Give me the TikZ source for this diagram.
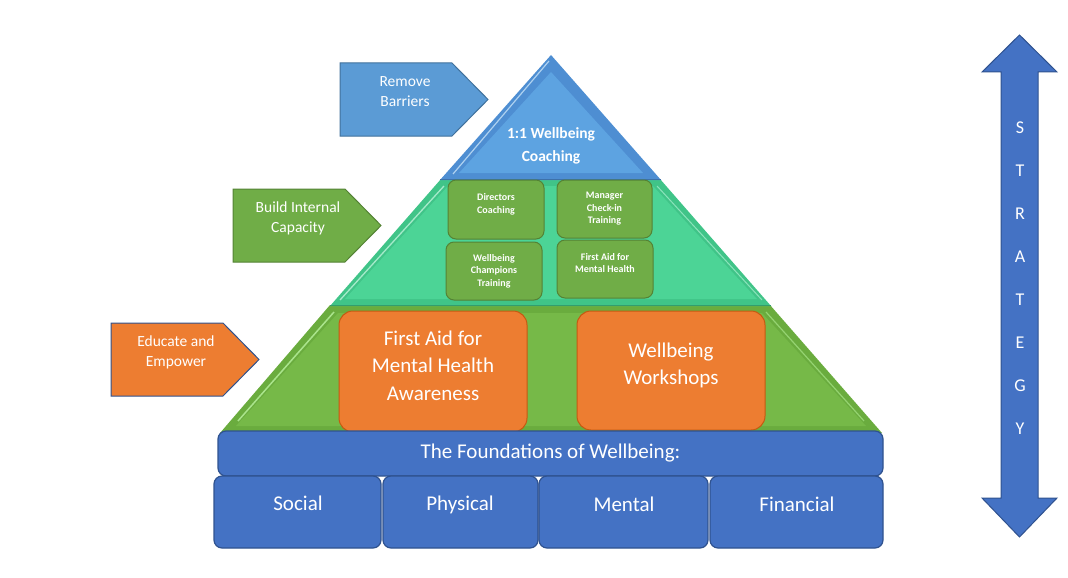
\documentclass[tikz,border=0pt]{standalone}
\usepackage{fontspec}
\setmainfont{Carlito}
\definecolor{topblue}{RGB}{93,163,225}
\definecolor{topblueedge}{RGB}{78,142,210}
\definecolor{mint}{RGB}{76,212,150}
\definecolor{mintedge}{RGB}{64,196,136}
\definecolor{pgreen}{RGB}{118,185,72}
\definecolor{pgreenedge}{RGB}{106,172,62}
\definecolor{hilite}{RGB}{170,228,140}
\definecolor{boxgreen}{RGB}{112,173,71}
\definecolor{boxgreenline}{RGB}{84,130,53}
\definecolor{myorange}{RGB}{237,125,49}
\definecolor{orangeline}{RGB}{197,90,17}
\definecolor{myblue}{RGB}{68,114,196}
\definecolor{bluelineD}{RGB}{47,82,143}
\definecolor{arrowblue}{RGB}{91,155,213}
\definecolor{arrowblueline}{RGB}{65,113,156}
\tikzset{
  txt/.style={text=white, align=center, inner sep=0pt},
  fbox/.style={draw=bluelineD, line width=1.2pt, fill=myblue, rounded corners=8pt},
  obox/.style={draw=orangeline, line width=1pt, fill=myorange, rounded corners=14pt},
  gbox/.style={draw=boxgreenline, line width=1pt, fill=boxgreen, rounded corners=8pt},
}
\begin{document}
\begin{tikzpicture}[x=1pt,y=-1pt]
\useasboundingbox (0,0) rectangle (1068,578);
% ---- pyramid bottom layer
\fill[pgreenedge] (330,305) -- (770,305) -- (882,433) -- (220,433) -- cycle;
\fill[pgreen] (338,313) -- (762,313) -- (866,426) -- (236,426) -- cycle;
\draw[hilite, line width=1.5pt] (334,312) -- (238,421);
\draw[hilite!60!pgreen, line width=1.2pt] (766,312) -- (864,421);
% ---- pyramid middle layer
\fill[mintedge] (441,179) -- (660,179) -- (771,306) -- (330,306) -- cycle;
\fill[mint] (448,186) -- (653,186) -- (757,299) -- (345,299) -- cycle;
\draw[white!50!mint, line width=1.3pt] (444,186) -- (340,300);
\draw[white!35!mint, line width=1pt] (657,186) -- (762,300);
\draw[mintedge!80!black, line width=0.8pt] (330,305.5) -- (771,305.5);
% ---- pyramid top
\fill[topblueedge] (551,55) -- (661,180) -- (440,180) -- cycle;
\fill[topblue] (551,72) -- (643,173) -- (459,173) -- cycle;
\draw[white!50!topblue, line width=1.2pt] (549,61) -- (453,174);
\draw[topblueedge!80!black, line width=0.8pt] (440,179.5) -- (661,179.5);
\node[txt, font=\bfseries\fontsize{15.5}{23}\selectfont] (coach) at (551,146) {1:1 Wellbeing\\Coaching};
% ---- middle boxes
\node[gbox, minimum width=96pt, minimum height=59pt] (dir) at (496,209.5) {};
\node[txt, font=\bfseries\fontsize{10}{12.5}\selectfont] at (dir.center) [yshift=5pt] {Directors\\Coaching};
\node[gbox, minimum width=95pt, minimum height=58pt] (mgr) at (604.5,209) {};
\node[txt, font=\bfseries\fontsize{10}{12.5}\selectfont] at (mgr.center) {Manager\\Check-in\\Training};
\node[gbox, minimum width=96pt, minimum height=58pt] (champ) at (494,271) {};
\node[txt, font=\bfseries\fontsize{10}{12.5}\selectfont] at (champ.center) {Wellbeing\\Champions\\Training};
\node[gbox, minimum width=96pt, minimum height=58pt] (fam) at (605,269) {};
\node[txt, font=\bfseries\fontsize{10}{12.5}\selectfont] at (fam.center) [yshift=6pt] {First Aid for\\Mental Health};
% ---- orange boxes
\node[obox, minimum width=188pt, minimum height=121pt] (fa) at (433,371.5) {};
\node[txt, font=\fontsize{21}{27.5}\selectfont] at (fa.center) [yshift=6pt] {First Aid for\\Mental Health\\Awareness};
\node[obox, minimum width=188pt, minimum height=119pt] (ww) at (671,370.5) {};
\node[txt, font=\fontsize{21}{27.5}\selectfont] at (ww.center) [yshift=5pt] {Wellbeing\\Workshops};
% ---- foundations
\node[fbox, minimum width=665pt, minimum height=45pt] (found) at (550.5,453.5) {};
\node[txt, font=\fontsize{21}{24}\selectfont] at (found.center) {The Foundations of Wellbeing:};
\node[fbox, minimum width=167pt, minimum height=72pt] (social) at (297.5,512) {};
\node[txt, font=\fontsize{21}{24}\selectfont] at (298,503) {Social};
\node[fbox, minimum width=155pt, minimum height=72pt] (phys) at (460.5,512) {};
\node[txt, font=\fontsize{21}{24}\selectfont] at (460,505) {Physical};
\node[fbox, minimum width=169pt, minimum height=72pt] (ment) at (623.5,512) {};
\node[txt, font=\fontsize{21}{24}\selectfont] at (624,504) {Mental};
\node[fbox, minimum width=173pt, minimum height=72pt] (fin) at (796.5,512) {};
\node[txt, font=\fontsize{21}{24}\selectfont] at (797,504) {Financial};
% ---- side arrows
\draw[fill=arrowblue, draw=arrowblueline, line width=1pt] (340,63) -- (452,63) -- (488,99.5) -- (452,136) -- (340,136) -- cycle;
\node[txt, font=\fontsize{15.5}{20}\selectfont] (rb) at (405,92) {Remove\\Barriers};
\draw[fill=boxgreen, draw=boxgreenline, line width=1pt] (233,189) -- (345,189) -- (381,225.5) -- (345,262) -- (233,262) -- cycle;
\node[txt, font=\fontsize{15.5}{20}\selectfont] (bic) at (298,218) {Build Internal\\Capacity};
\draw[fill=myorange, draw=bluelineD, line width=1pt] (111,323) -- (223,323) -- (259,359.5) -- (223,396) -- (111,396) -- cycle;
\node[txt, font=\fontsize{15.5}{20}\selectfont] (ee) at (176,352) {Educate and\\Empower};
% ---- strategy double arrow
\draw[fill=myblue, draw=bluelineD, line width=1pt]
  (1019.5,35) -- (1057,72) -- (1038,72) -- (1038,498) -- (1057,498) -- (1019.5,537)
  -- (982,498) -- (1001,498) -- (1001,72) -- (982,72) -- cycle;
\foreach \l [count=\i from 0] in {S,T,R,A,T,E,G,Y}
  \node[txt, font=\fontsize{18}{18}\selectfont] (s\i) at (1020,{128+42.9*\i}) {\l};
\end{tikzpicture}
\end{document}
